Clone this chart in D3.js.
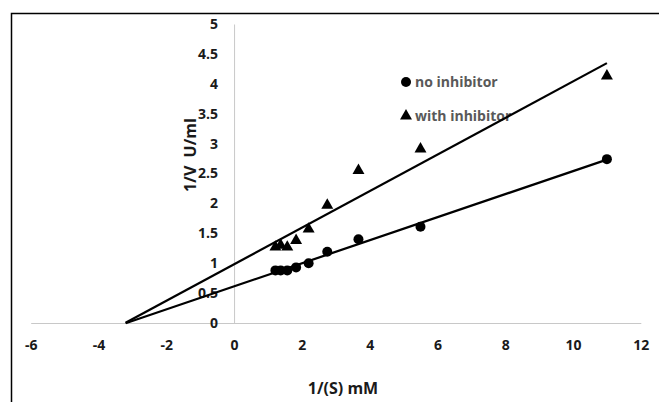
<!DOCTYPE html>
<html>
<head>
<meta charset="utf-8">
<script src="https://cdn.jsdelivr.net/npm/d3@7"></script>
<style>
  body { margin: 0; background: #fff; }
  svg { display: block; }
  text { font-family: 'Open Sans', sans-serif; font-weight: bold; }
</style>
</head>
<body>
<div id="chart"></div>
<script>
// 1/[S] values (mM^-1)
const invS = [1.22, 1.375, 1.57, 1.83, 2.2, 2.75, 3.67, 5.5, 11];
// 1/V values
const noInhibitor = [0.88, 0.88, 0.88, 0.93, 1.0, 1.19, 1.40, 1.61, 2.74];
const withInhibitor = [1.27, 1.30, 1.27, 1.38, 1.57, 1.97, 2.55, 2.91, 4.13];
const seriesNames = ['no inhibitor', 'with inhibitor'];
const xTicks = [-6, -4, -2, 0, 2, 4, 6, 8, 10, 12];
const yTicks = [0, 0.5, 1, 1.5, 2, 2.5, 3, 3.5, 4, 4.5, 5];
// trendline backward forecast start
const trendStart = -3.2;

const width = 659;
const height = 402;

const svg = d3.select('#chart').append('svg')
    .attr('width', width)
    .attr('height', height);

svg.append('rect')
    .attr('width', width)
    .attr('height', height)
    .attr('fill', '#fff');

// outer frame (only top/left visible in the crop)
svg.append('rect')
    .attr('x', 11.5)
    .attr('y', 13.5)
    .attr('width', 800)
    .attr('height', 600)
    .attr('fill', 'none')
    .attr('stroke', '#000')
    .attr('stroke-width', 1.5);

const x = d3.scaleLinear().domain([-6, 12]).range([30.7, 640.8]);
const y = d3.scaleLinear().domain([0, 5]).range([323, 24]);

const xAxis = svg.append('g')
    .attr('transform', 'translate(0,' + y(0) + ')')
    .call(d3.axisBottom(x).tickValues(xTicks).tickSize(0).tickPadding(17)
        .tickFormat(d => String(d)));
const yAxis = svg.append('g')
    .attr('transform', 'translate(' + x(0) + ',0)')
    .call(d3.axisLeft(y).tickValues(yTicks).tickSize(0).tickPadding(16)
        .tickFormat(d => String(d)));

[xAxis, yAxis].forEach(a => {
    a.select('.domain').attr('stroke', '#c8c8c8').attr('stroke-width', 1);
    a.selectAll('text')
        .attr('fill', '#1a1a1a')
        .style('font-size', '14px')
        .style('font-family', "'Open Sans', sans-serif");
});

// axis titles
svg.append('text')
    .attr('x', 343)
    .attr('y', 394)
    .attr('text-anchor', 'middle')
    .style('font-size', '16px')
    .attr('fill', '#1a1a1a')
    .style('white-space', 'pre')
    .text('1/(S) mM');

svg.append('text')
    .attr('transform', 'translate(196,155) rotate(-90)')
    .attr('text-anchor', 'middle')
    .style('font-size', '16px')
    .attr('fill', '#1a1a1a')
    .style('white-space', 'pre')
    .text('1/V  U/ml');

// legend
const triangle = d3.symbol().type(d3.symbolTriangle).size(62);
const legend = svg.append('g');
legend.append('circle').attr('cx', 406).attr('cy', 82).attr('r', 5).attr('fill', '#000');
legend.append('path').attr('d', triangle()).attr('transform', 'translate(406,116)').attr('fill', '#000');
legend.selectAll('text.leg')
    .data(seriesNames)
    .join('text')
    .attr('class', 'leg')
    .attr('x', 415)
    .attr('y', (d, i) => 87 + i * 34)
    .attr('fill', '#595959')
    .style('font-size', '14px')
    .text(d => d);

// linear regression trendlines
function fit(xs, ys) {
    const mx = d3.mean(xs);
    const my = d3.mean(ys);
    let sxy = 0;
    let sxx = 0;
    xs.forEach((v, i) => {
        sxy += (v - mx) * (ys[i] - my);
        sxx += (v - mx) * (v - mx);
    });
    const slope = sxy / sxx;
    return { slope: slope, intercept: my - slope * mx };
}

[noInhibitor, withInhibitor].forEach(ys => {
    const f = fit(invS, ys);
    const x1 = d3.max(invS);
    svg.append('line')
        .attr('x1', x(trendStart))
        .attr('y1', y(f.slope * trendStart + f.intercept))
        .attr('x2', x(x1))
        .attr('y2', y(f.slope * x1 + f.intercept))
        .attr('stroke', '#000')
        .attr('stroke-width', 2.25);
});

// markers
svg.append('g').selectAll('circle')
    .data(invS.map((v, i) => [v, noInhibitor[i]]))
    .join('circle')
    .attr('cx', d => x(d[0]))
    .attr('cy', d => y(d[1]))
    .attr('r', 5)
    .attr('fill', '#000');

svg.append('g').selectAll('path')
    .data(invS.map((v, i) => [v, withInhibitor[i]]))
    .join('path')
    .attr('d', triangle())
    .attr('transform', d => 'translate(' + x(d[0]) + ',' + y(d[1]) + ')')
    .attr('fill', '#000');
</script>
</body>
</html>
